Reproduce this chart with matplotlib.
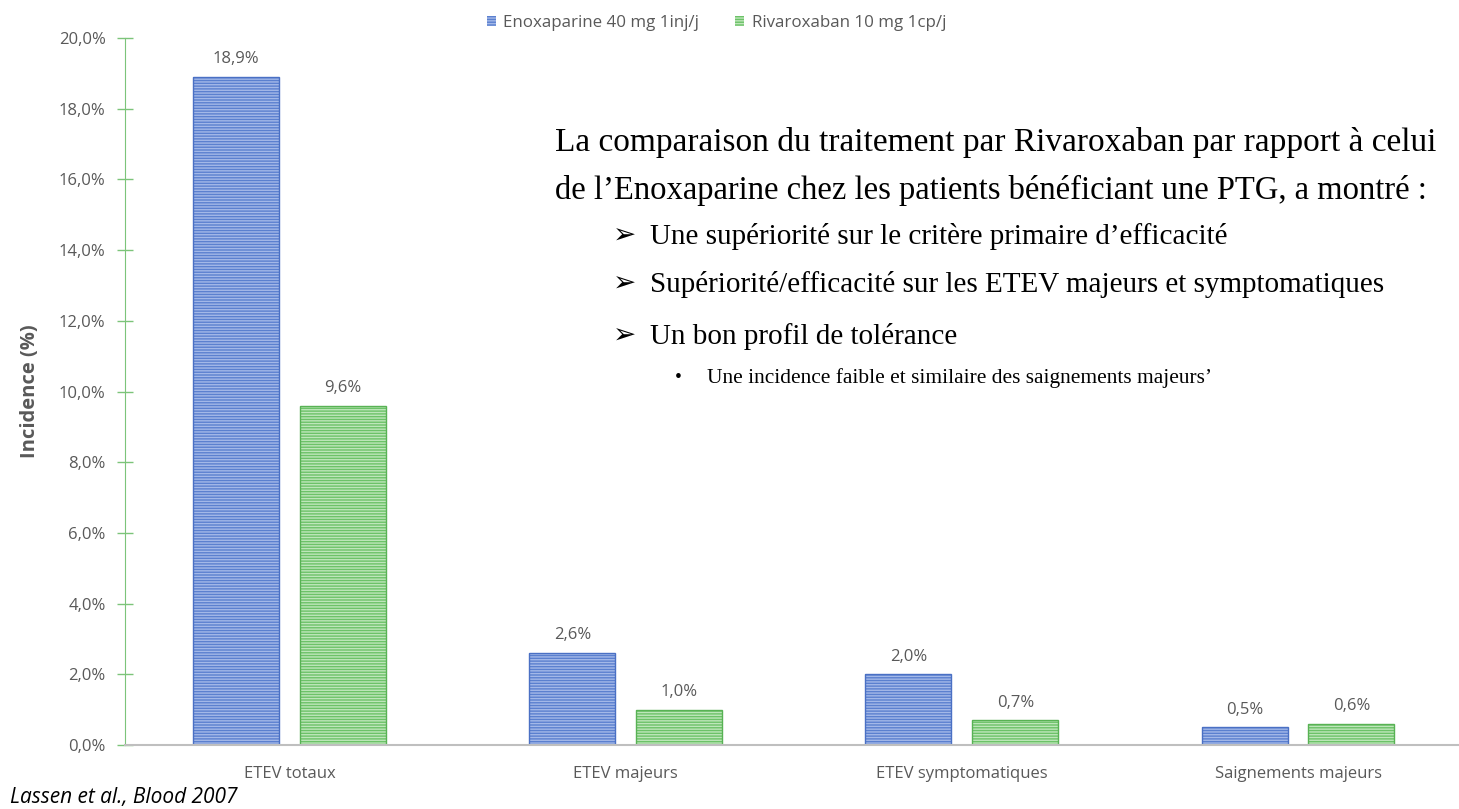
import matplotlib
matplotlib.use("Agg")
import matplotlib.pyplot as plt
import numpy as np
from matplotlib.ticker import FuncFormatter

categories = ["ETEV totaux", "ETEV majeurs", "ETEV symptomatiques", "Saignements majeurs"]
enoxaparine = [18.9, 2.6, 2.0, 0.5]
rivaroxaban = [9.6, 1.0, 0.7, 0.6]
series_names = ["Enoxaparine 40 mg 1inj/j", "Rivaroxaban 10 mg 1cp/j"]

BLUE_FACE = "#5B80CF"
BLUE_HATCH = "#A3B8E8"
BLUE_EDGE = "#4A70C4"
GREEN_FACE = "#6CC268"
GREEN_HATCH = "#BEE6BA"
GREEN_EDGE = "#58B254"
GREY = "#595959"
SANS = "Open Sans"
SERIF = ["Liberation Serif", "DejaVu Sans"]

plt.rcParams["hatch.linewidth"] = 1.0

fig = plt.figure(figsize=(14.59, 8.09), dpi=100)
ax = fig.add_axes([125 / 1459, 64 / 809, 1334 / 1459, 707 / 809])

x = np.arange(len(categories))
w = 0.256
off = 0.159

b1 = ax.bar(x - off, enoxaparine, w, color=BLUE_FACE, edgecolor=BLUE_HATCH,
            lw=0, hatch="------", label=series_names[0])
ax.bar(x - off, enoxaparine, w, fill=False, edgecolor=BLUE_EDGE, lw=1)
b2 = ax.bar(x + off, rivaroxaban, w, color=GREEN_FACE, edgecolor=GREEN_HATCH,
            lw=0, hatch="------", label=series_names[1])
ax.bar(x + off, rivaroxaban, w, fill=False, edgecolor=GREEN_EDGE, lw=1)

for xs, vals in ((x - off, enoxaparine), (x + off, rivaroxaban)):
    for xi, v in zip(xs, vals):
        ax.annotate(f"{v:.1f}%".replace(".", ","), (xi, v), xytext=(0, 7),
                    textcoords="offset points", ha="center", va="bottom",
                    fontsize=12, color=GREY, family=SANS)

ax.set_xlim(-0.49, 3.479)
ax.set_ylim(0, 20)
ax.set_yticks(np.arange(0, 20.1, 2))
ax.yaxis.set_major_formatter(FuncFormatter(lambda v, p: f"{v:.1f}%".replace(".", ",")))
ax.set_xticks(x)
ax.set_xticklabels(categories)
ax.tick_params(axis="x", length=0, pad=15, labelsize=12, labelcolor=GREY)
ax.tick_params(axis="y", direction="inout", length=12, width=1, color="#7CC47A",
               labelsize=12, labelcolor=GREY, pad=8)
for lab in ax.get_xticklabels() + ax.get_yticklabels():
    lab.set_family(SANS)

for s in ("top", "right"):
    ax.spines[s].set_visible(False)
ax.spines["left"].set_color("#7CC47A")
ax.spines["bottom"].set_color("#BFBFBF")
ax.spines["bottom"].set_linewidth(1.5)

ax.set_ylabel("Incidence (%)", fontsize=14.5, fontweight="bold", color=GREY,
              family=SANS)
ax.yaxis.set_label_coords(-0.0637, 0.5)

fig.legend(handles=[b1, b2], loc="upper center", bbox_to_anchor=(0.491, 1.0),
           ncol=2, frameon=False, handlelength=0.55, handleheight=0.55,
           columnspacing=2.1, handletextpad=0.45,
           prop={"family": SANS, "size": 12.2}, labelcolor=GREY)

# commentary text
fig.text(555 / 1459, 1 - 143 / 809,
         "La comparaison du traitement par Rivaroxaban par rapport à celui",
         fontsize=24, family=SERIF, va="center", ha="left")
fig.text(555 / 1459, 1 - 190 / 809,
         "de l’Enoxaparine chez les patients bénéficiant une PTG, a montré :",
         fontsize=23.5, family=SERIF, va="center", ha="left")
bullets = ["Une supériorité sur le critère primaire d’efficacité",
           "Supériorité/efficacité sur les ETEV majeurs et symptomatiques",
           "Un bon profil de tolérance"]
for yy, t in zip((237, 285, 337), bullets):
    fig.text(613 / 1459, 1 - yy / 809, "➢", fontsize=20, family=SERIF,
             va="center", ha="left", fontweight="bold")
    fig.text(650 / 1459, 1 - yy / 809, t, fontsize=21, family=SERIF,
             va="center", ha="left")
fig.text(675 / 1459, 1 - 378 / 809, "•", fontsize=14, family=SERIF,
         va="center", ha="left")
fig.text(707 / 1459, 1 - 378 / 809,
         "Une incidence faible et similaire des saignements majeurs’",
         fontsize=15.4, family=SERIF, va="center", ha="left")

fig.text(10 / 1459, 1 - 797 / 809, "Lassen et al., Blood 2007", fontsize=15,
         style="italic", family=SANS, va="center", ha="left")

fig.savefig("out.png", dpi=100)
